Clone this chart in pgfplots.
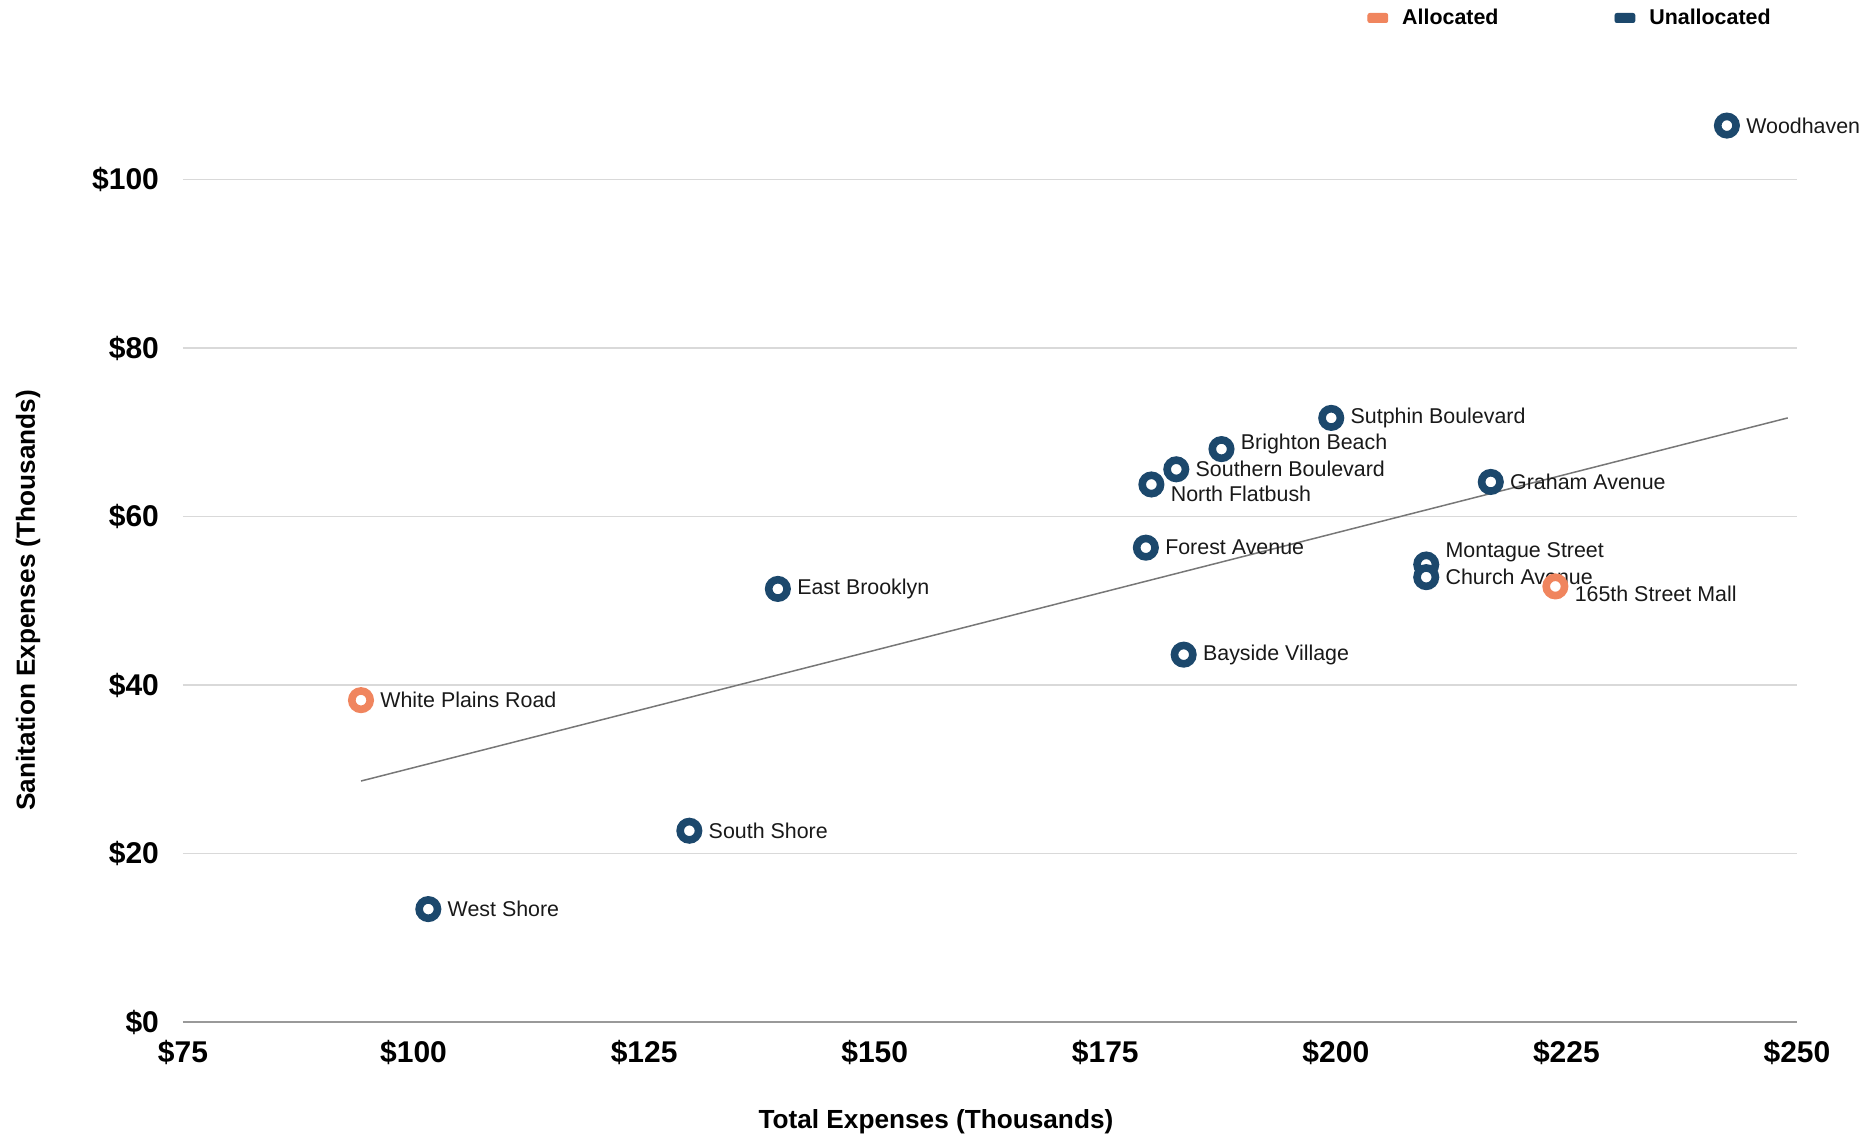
\documentclass[border=0pt]{standalone}
\usepackage{pgfplots}
\pgfplotsset{compat=1.18}
\usepackage{fontspec}
\setmainfont{Liberation Sans}
\definecolor{navy}{HTML}{1C486C}
\definecolor{salmon}{HTML}{F0855E}
\definecolor{gridgray}{HTML}{D9D9D9}
\definecolor{axisgray}{HTML}{999999}
\definecolor{trendgray}{HTML}{777777}

\pgfplotstableread{
x      y
242.4  106.4
199.5  71.7
187.6  68.0
182.7  65.6
180.0  63.8
216.8  64.1
179.4  56.3
209.8  54.3
209.8  52.8
139.5  51.4
183.5  43.6
129.9  22.7
101.6  13.4
}\unallocated

\pgfplotstableread{
x      y
223.8  51.7
94.3   38.2
}\allocated

\begin{document}
\begin{tikzpicture}
\begin{axis}[
    at={(0,0)}, anchor=south west,
    scale only axis,
    width=807pt, height=471.8pt,
    xmin=75, xmax=250,
    ymin=0, ymax=112,
    xtick={75,100,...,250},
    ytick={0,20,...,100},
    xticklabel={\$\pgfmathprintnumber{\tick}},
    yticklabel={\$\pgfmathprintnumber{\tick}},
    /pgf/number format/assume math mode=true,
    ticklabel style={font=\bfseries\fontsize{15}{18}\selectfont},
    xticklabel style={yshift=-5.5pt},
    yticklabel style={xshift=-8.5pt},
    major tick length=0pt,
    ymajorgrids,
    grid style={gridgray, line width=0.75pt},
    axis x line*=bottom,
    axis y line*=left,
    x axis line style={axisgray, line width=1pt, -},
    y axis line style={draw=none},
    clip=false,
    xlabel={Total Expenses (Thousands)},
    ylabel={Sanitation Expenses (Thousands)},
    label style={font=\bfseries\fontsize{13.1}{16}\selectfont},
    xlabel style={at={(axis description cs:0.4665,-0.106)}, anchor=center},
    ylabel style={at={(axis description cs:-0.096,0.447)}, anchor=center, rotate=0},
    legend columns=2,
    legend style={at={(axis description cs:0.7336,1.064)}, anchor=west,
        draw=none, fill=none, inner sep=0pt,
        font=\bfseries\fontsize{10.7}{12}\selectfont,
        /tikz/every odd column/.append style={column sep=5pt},
        /tikz/every even column/.append style={column sep=56pt}},
    legend image code/.code={\fill[rounded corners=1pt] (0pt,-2.3pt) rectangle (10pt,2.3pt);},
    scatter mark/.style={only marks, mark=*, mark size=4.6pt,
        mark options={fill=white, line width=3.8pt}},
]
\addlegendimage{salmon}
\addlegendentry{Allocated}
\addlegendimage{navy}
\addlegendentry{Unallocated}

% trend line
\addplot[trendgray, line width=0.75pt, forget plot] coordinates {(94.3,28.6) (249,71.7)};

\addplot[scatter mark, navy, forget plot] table {\unallocated};

% point labels
\begin{scope}[every node/.style={anchor=west, inner sep=0pt, xshift=9.5pt,
    font=\fontsize{10.7}{12}\selectfont, text=black!90}]
\node at (axis cs:242.4,106.4) {Woodhaven};
\node at (axis cs:199.5,71.7) {Sutphin Boulevard};
\node[yshift=2.4pt] at (axis cs:187.6,68.0) {Brighton Beach};
\node at (axis cs:182.7,65.6) {Southern Boulevard};
\node[yshift=-4.8pt] at (axis cs:180.0,63.8) {North Flatbush};
\node at (axis cs:216.8,64.1) {Graham Avenue};
\node at (axis cs:179.4,56.3) {Forest Avenue};
\node[yshift=6pt] at (axis cs:209.8,54.3) {Montague Street};
\node at (axis cs:209.8,52.8) {Church Avenue};
\node[yshift=-3.6pt] at (axis cs:223.8,51.7) {165th Street Mall};
\node at (axis cs:139.5,51.4) {East Brooklyn};
\node at (axis cs:183.5,43.6) {Bayside Village};
\node at (axis cs:94.3,38.2) {White Plains Road};
\node at (axis cs:129.9,22.7) {South Shore};
\node at (axis cs:101.6,13.4) {West Shore};
\end{scope}

\addplot[scatter mark, salmon, forget plot] table {\allocated};
\end{axis}
\pgfresetboundingbox
\path[use as bounding box] (-91.5pt,-58pt) rectangle (846.5pt,511pt);
\end{tikzpicture}
\end{document}
